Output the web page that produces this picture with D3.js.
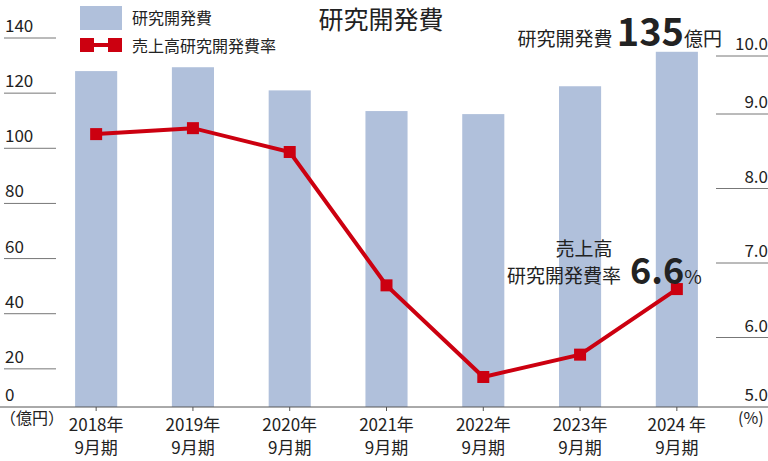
<!DOCTYPE html>
<html><head><meta charset="utf-8">
<script src="https://cdn.jsdelivr.net/npm/d3@7"></script>
<style>body{margin:0;background:#fff}text{font-family:"Noto Sans CJK JP","Noto Sans",sans-serif;fill:#222;font-weight:400}</style>
</head><body><svg id="c" width="768" height="461"></svg>
<script>
const years = ["2018年", "2019年", "2020年", "2021年", "2022年", "2023年", "2024 年"];
const rdCost = [128, 129.4, 121, 113.5, 112.4, 122.5, 135];
const rdRatio = [8.73, 8.81, 8.49, 6.7, 5.47, 5.77, 6.65];
const leftTicks = [20, 40, 60, 80, 100, 120, 140];
const rightTicks = [6, 7, 8, 9, 10];

const svg = d3.select("#c");
const base = 407;
const x = d3.scaleBand().domain(years).range([48, 725]).paddingInner(0.565).paddingOuter(0.28);
const y = d3.scaleLinear().domain([0, 140]).range([424, 38]);
const y2 = d3.scaleLinear().domain([5, 9, 10]).range([412, 114, 56]);

// left tick lines and labels
svg.selectAll(".lt").data(leftTicks).join("line")
  .attr("x1", 4).attr("x2", 56).attr("y1", d => y(d)).attr("y2", d => y(d))
  .attr("stroke", "#777").attr("stroke-width", 1);
svg.selectAll(".ll").data(leftTicks).join("text")
  .attr("x", 5).attr("y", d => y(d) - 6).attr("font-size", 17).text(d => d);
svg.append("text").attr("x", 5).attr("y", base - 6).attr("font-size", 17).text("0");
svg.append("text").attr("x", 0).attr("y", 424).attr("font-size", 16).text("（億円）");

// right ticks
svg.selectAll(".rt").data(rightTicks).join("line")
  .attr("x1", 716).attr("x2", 768).attr("y1", d => y2(d)).attr("y2", d => y2(d))
  .attr("stroke", "#777");
svg.selectAll(".rl").data([5, ...rightTicks]).join("text")
  .attr("x", 768).attr("text-anchor", "end").attr("y", d => (d === 5 ? base : y2(d)) - 6)
  .attr("font-size", 17).text(d => d3.format(".1f")(d));
svg.append("text").attr("x", 738).attr("y", 424).attr("font-size", 16).text("(%)");

// bars
svg.selectAll(".bar").data(rdCost).join("rect")
  .attr("x", (d, i) => x(years[i])).attr("width", x.bandwidth())
  .attr("y", d => y(d)).attr("height", d => base - y(d)).attr("fill", "#b0c0db");

// baseline and x labels
svg.append("line").attr("x1", 0).attr("x2", 768).attr("y1", base).attr("y2", base).attr("stroke", "#555");
const cx = d => x(d) + x.bandwidth() / 2;
svg.selectAll(".xt").data(years).join("line")
  .attr("x1", cx).attr("x2", cx).attr("y1", base).attr("y2", base + 4).attr("stroke", "#555");
svg.selectAll(".xl").data(years).join("text")
  .attr("x", cx).attr("y", 431).attr("text-anchor", "middle").attr("font-size", 17).text(d => d);
svg.selectAll(".xl2").data(years).join("text")
  .attr("x", cx).attr("y", 454).attr("text-anchor", "middle").attr("font-size", 17).text("9月期");

// line
const pts = rdRatio.map((v, i) => [cx(years[i]), y2(v)]);
svg.append("path").attr("d", d3.line()(pts)).attr("fill", "none").attr("stroke", "#cc0010").attr("stroke-width", 4);
svg.selectAll(".pt").data(pts).join("rect")
  .attr("x", d => d[0] - 6).attr("y", d => d[1] - 6).attr("width", 12).attr("height", 12).attr("fill", "#cc0010");

// legend
svg.append("rect").attr("x", 80).attr("y", 6).attr("width", 42).attr("height", 24).attr("fill", "#b0c0db");
svg.append("line").attr("x1", 82).attr("x2", 120).attr("y1", 45).attr("y2", 45).attr("stroke", "#cc0010").attr("stroke-width", 4);
[80, 108].forEach(px => svg.append("rect").attr("x", px).attr("y", 38).attr("width", 14).attr("height", 14).attr("fill", "#cc0010"));
svg.append("text").attr("x", 132).attr("y", 24).attr("font-size", 16).text("研究開発費");
svg.append("text").attr("x", 132).attr("y", 52).attr("font-size", 16).text("売上高研究開発費率");

// title
svg.append("text").attr("x", 381).attr("y", 29).attr("text-anchor", "middle").attr("font-size", 25).text("研究開発費");

// callouts
const t1 = svg.append("text").attr("x", 722).attr("y", 46).attr("text-anchor", "end");
t1.append("tspan").attr("font-size", 19).text("研究開発費 ");
t1.append("tspan").attr("font-size", 38).attr("font-weight", 700).text("135");
t1.append("tspan").attr("font-size", 19).text("億円");

svg.append("text").attr("x", 584).attr("y", 256).attr("text-anchor", "middle").attr("font-size", 19).text("売上高");
svg.append("text").attr("x", 621).attr("y", 283).attr("text-anchor", "end").attr("font-size", 19).text("研究開発費率");
const t2 = svg.append("text").attr("x", 630).attr("y", 284);
t2.append("tspan").attr("font-size", 36).attr("font-weight", 700).text("6.6");
t2.append("tspan").attr("font-size", 19).text("%");
</script></body></html>
